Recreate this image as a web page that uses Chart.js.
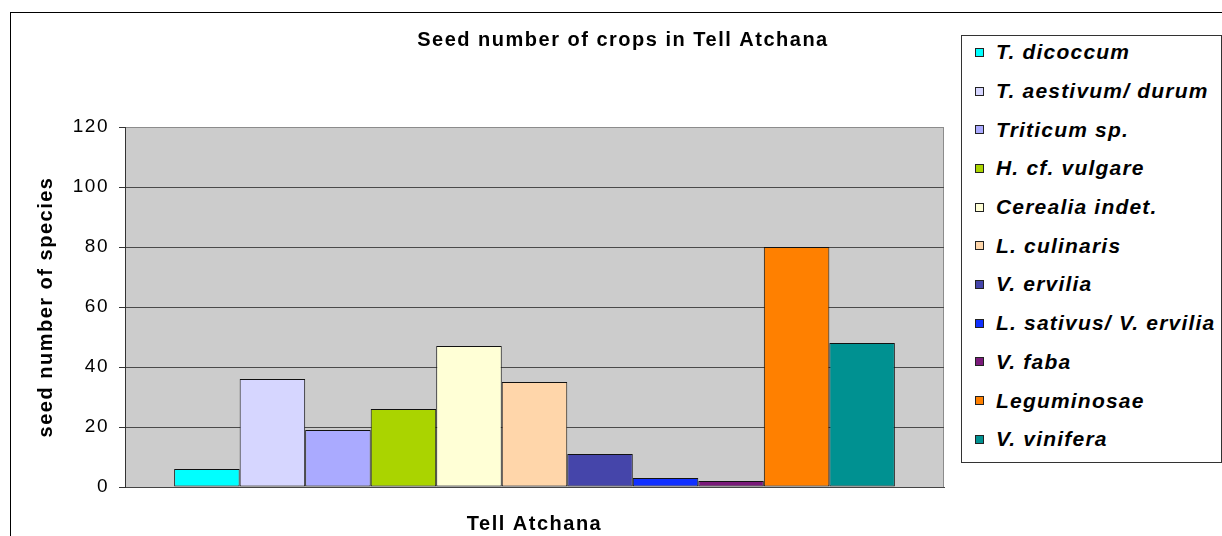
<!DOCTYPE html>
<html>
<head>
<meta charset="utf-8">
<script src="https://cdn.jsdelivr.net/npm/chart.js@4.4.1/dist/chart.umd.min.js"></script>
<style>
    html, body { margin: 0; padding: 0; background: #fff; overflow: hidden; }
    body { width: 1222px; height: 536px; position: relative; font-family: 'Liberation Sans', Arial, sans-serif; }
    #frame {
        position: absolute; left: 10px; top: 12px;
        width: 1300px; height: 600px;
        border: 1px solid #000;
    }
    #wrap { position: absolute; left: 0; top: 0; width: 1222px; height: 536px; }
    #legend {
        position: absolute; left: 961px; top: 35px;
        width: 261px; height: 428px;
        box-sizing: border-box;
        border: 1px solid #333;
        background: #fff;
    }
    #legend ul { list-style: none; margin: -3px 0 0 0; padding: 0 0 0 13px; }
    #legend li {
        height: 38.7px; display: flex; align-items: center;
        font-size: 21px; font-weight: bold; font-style: italic;
        letter-spacing: 1.2px; white-space: nowrap; color: #000;
    }
    #legend .box {
        width: 9px; height: 9px; box-sizing: border-box;
        border: 1px solid #222; margin-right: 12px; flex: none;
    }
</style>
</head>
<body>
<div id="frame"></div>
<div id="wrap"><canvas id="seedChart" width="1222" height="536"></canvas></div>
<div id="legend"></div>
<script>
// 数据
const sites = ['Tell Atchana'];
const crops = ['T. dicoccum', 'T. aestivum/ durum', 'Triticum sp.', 'H. cf. vulgare', 'Cerealia indet.',
    'L. culinaris', 'V. ervilia', 'L. sativus/ V. ervilia', 'V. faba', 'Leguminosae', 'V. vinifera'];
const seeds = [6, 36, 19, 26, 47, 35, 11, 3, 2, 80, 48];
const colours = ['#00ffff', '#d6d6ff', '#aaaaff', '#aad400', '#ffffd6', '#ffd6aa',
    '#4545aa', '#1030ff', '#7a1a7a', '#ff8000', '#009191'];
const yMin = 0;
const yMax = 120;
const yStep = 20;

const font = "'Liberation Sans', Arial, sans-serif";

// 灰色绘图区背景
const plotBg = {
    id: 'plotBg',
    beforeDraw(chart) {
        const { ctx, chartArea: a } = chart;
        ctx.letterSpacing = '1.5px';
        ctx.save();
        ctx.fillStyle = '#cccccc';
        ctx.fillRect(a.left, a.top, a.width, a.height);
        ctx.strokeStyle = '#8c8c8c';
        ctx.lineWidth = 1;
        ctx.beginPath();
        ctx.moveTo(a.right - 0.5, a.top);
        ctx.lineTo(a.right - 0.5, a.bottom);
        ctx.stroke();
        ctx.restore();
    }
};

const seedChart = new Chart(document.getElementById('seedChart'), {
    type: 'bar',
    data: {
        labels: sites,
        datasets: crops.map((name, i) => ({
            label: name,
            data: [seeds[i]],
            backgroundColor: colours[i],
            borderColor: '#111',
            borderWidth: 1,
            borderSkipped: false,
            barPercentage: 1,
            categoryPercentage: 0.88
        }))
    },
    options: {
        responsive: false,
        animation: false,
        layout: { padding: { left: 24, right: 0, top: 0, bottom: 0 } },
        plugins: {
            legend: { display: false },
            tooltip: { enabled: false },
            title: {
                display: true,
                text: 'Seed number of crops in Tell Atchana',
                color: '#000',
                font: { family: font, size: 20, weight: 'bold' },
                padding: { top: 28, bottom: 75 }
            }
        },
        scales: {
            x: {
                grid: { display: false },
                border: { display: true, color: '#444', width: 1 },
                ticks: {
                    color: '#000',
                    padding: 17,
                    font: { family: font, size: 20, weight: 'bold' }
                },
                afterFit: s => { s.height = 49; }
            },
            y: {
                min: yMin,
                max: yMax,
                ticks: {
                    stepSize: yStep,
                    color: '#000',
                    padding: 10,
                    font: { family: font, size: 19 }
                },
                grid: {
                    color: c => c.tick && c.tick.value === yMax ? '#8c8c8c' : '#4a4a4a',
                    tickColor: '#333',
                    tickLength: 6,
                    lineWidth: 1
                },
                border: { display: true, color: '#333', width: 1 },
                title: {
                    display: true,
                    text: 'seed number of species',
                    color: '#000',
                    font: { family: font, size: 20, weight: 'bold' },
                    padding: { top: 10, bottom: 0 }
                },
                afterFit: s => { s.width = 101; }
            },
            // 右侧留白给图例
            side: {
                position: 'right',
                display: true,
                grid: { display: false },
                border: { display: false },
                ticks: { display: false },
                afterFit: s => { s.width = 278; }
            }
        }
    },
    plugins: [plotBg]
});

// 图例
const legendList = document.createElement('ul');
seedChart.data.datasets.forEach(ds => {
    const li = document.createElement('li');
    li.innerHTML = `<span class="box" style="background:${ds.backgroundColor}"></span><span>${ds.label}</span>`;
    legendList.appendChild(li);
});
document.getElementById('legend').appendChild(legendList);
</script>
</body>
</html>
